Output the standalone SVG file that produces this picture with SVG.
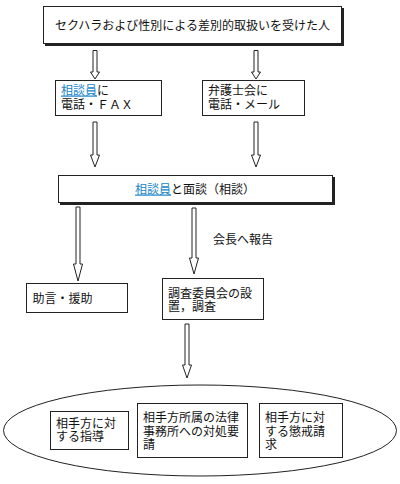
<svg xmlns="http://www.w3.org/2000/svg" width="400" height="484" viewBox="0 0 400 484">
<style>
text{font-family:"Liberation Sans","Noto Sans CJK JP",sans-serif;font-size:12px;fill:#111}
.box{fill:#fff;stroke:#222;stroke-width:1}
.shadow{fill:#222}
.arrow{fill:#fff;stroke:#222;stroke-width:1;stroke-linejoin:miter}
.link{fill:#1a85c8;text-decoration:underline}
</style>
<rect width="400" height="484" fill="#fff"/>
<g id="connectors">
<path class="arrow" d="M93,50.5 H97 V72 H99.5 L95,79 L90.5,72 H93 Z"/>
<path class="arrow" d="M254,50.5 H258 V72 H260.5 L256,79 L251.5,72 H254 Z"/>
<path class="arrow" d="M93,122 H97 V155 H99.5 L95,167 L90.5,155 H93 Z"/>
<path class="arrow" d="M254,122 H258 V155 H260.5 L256,167 L251.5,155 H254 Z"/>
<path class="arrow" d="M76,207 H80 V264 H82.5 L78,281 L73.5,264 H76 Z"/>
<path class="arrow" d="M192,208 H196 V258 H198.5 L194,274 L189.5,258 H192 Z"/>
<path class="arrow" d="M185,324 H189 V365 H191.5 L187,378 L182.5,365 H185 Z"/>
<text x="213" y="244">会長へ報告</text>
</g>
<g id="n-top">
<rect class="shadow" x="45" y="8" width="299" height="38"/>
<rect class="box" x="43.5" y="6.5" width="298" height="37"/>
<text x="192.5" y="29.5" text-anchor="middle">セクハラおよび性別による差別的取扱いを受けた人</text>
</g>
<g id="n-soudanin">
<rect class="box" x="55.5" y="80.5" width="106" height="35"/>
<text x="61" y="94.5"><tspan class="link">相談員</tspan>に</text>
<text x="61" y="108.5">電話・ＦＡＸ</text>
</g>
<g id="n-bengoshikai">
<rect class="box" x="202.5" y="80.5" width="102" height="35"/>
<text x="208" y="94.5">弁護士会に</text>
<text x="208" y="108.5">電話・メール</text>
</g>
<g id="n-mendan">
<rect class="shadow" x="60" y="177" width="275" height="28"/>
<rect class="box" x="58.5" y="175.5" width="274" height="27"/>
<text x="135" y="193.5"><tspan class="link">相談員</tspan>と面談（相談）</text>
</g>
<g id="n-jogen">
<rect class="box" x="26.5" y="283.5" width="101" height="29"/>
<text x="32.5" y="302.5">助言・援助</text>
</g>
<g id="n-chousa">
<rect class="box" x="162.5" y="278.5" width="101" height="41"/>
<text x="168" y="297.5">調査委員会の設</text>
<text x="168" y="311">置，調査</text>
</g>
<g id="n-result">
<ellipse cx="200" cy="430.5" rx="196.5" ry="45.5" fill="#fff" stroke="#222" stroke-width="1"/>
</g>
<g id="n-shidou">
<rect class="box" x="50.5" y="411.5" width="78" height="38"/>
<text x="56" y="427.5">相手方に対</text>
<text x="56" y="441">する指導</text>
</g>
<g id="n-taisho">
<rect class="box" x="137.5" y="403.5" width="110" height="54"/>
<text x="143" y="422">相手方所属の法律</text>
<text x="143" y="435.5">事務所への対処要</text>
<text x="143" y="449">請</text>
</g>
<g id="n-choukai">
<rect class="box" x="259.5" y="403.5" width="83" height="54"/>
<text x="265" y="422">相手方に対</text>
<text x="265" y="435.5">する懲戒請</text>
<text x="265" y="449">求</text>
</g>
</svg>
